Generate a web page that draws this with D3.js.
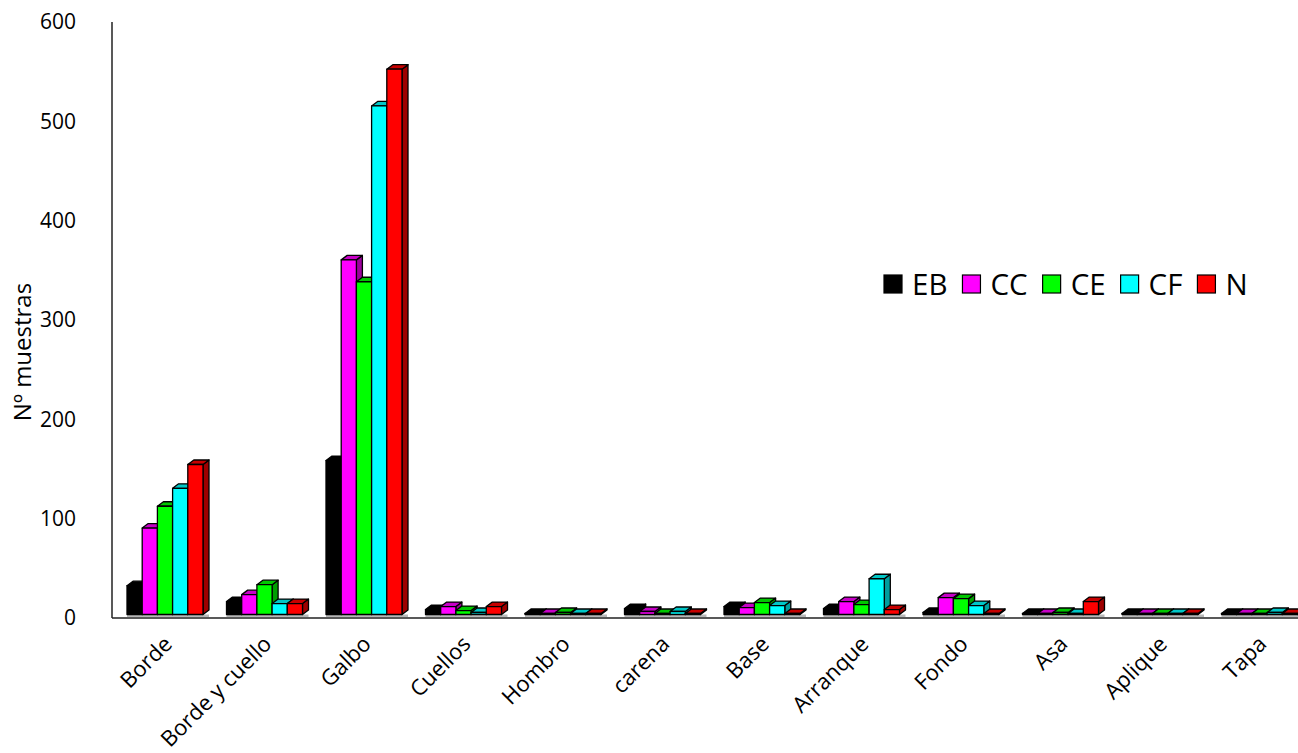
<!DOCTYPE html>
<html>
<head>
<meta charset="utf-8">
<script src="https://cdn.jsdelivr.net/npm/d3@7/dist/d3.min.js"></script>
<style>
  html, body { margin: 0; padding: 0; background: #fff; }
  svg { display: block; }
  text { font-family: "Open Sans", "DejaVu Sans", sans-serif; fill: #000; }
</style>
</head>
<body>
<svg id="chart" width="1298" height="753"></svg>
<script>
// Categorías de piezas y series por periodo
const categories = ["Borde", "Borde y cuello", "Galbo", "Cuellos", "Hombro", "carena",
                    "Base", "Arranque", "Fondo", "Asa", "Aplique", "Tapa"];
const seriesNames = ["EB", "CC", "CE", "CF", "N"];
const seriesColors = ["#000000", "#ff00ff", "#00ff00", "#00ffff", "#ff0000"];

const valuesEB = [29, 13, 155, 5, 1, 6, 8, 6, 2, 1, 1, 1];
const valuesCC = [87, 20, 357, 8, 1, 3, 7, 13, 17, 1, 1, 1];
const valuesCE = [109, 30, 335, 4, 2, 1, 12, 10, 16, 2, 1, 1];
const valuesCF = [127, 11, 512, 2, 1, 3, 9, 36, 9, 1, 1, 2];
const valuesN  = [151, 11, 549, 8, 1, 1, 1, 5, 1, 13, 1, 1];
const seriesValues = [valuesEB, valuesCC, valuesCE, valuesCF, valuesN];

const yTicks = [0, 100, 200, 300, 400, 500, 600];

const svg = d3.select("#chart");

const plotLeft = 112, plotTop = 22, plotBottom = 618;
const groupPitch = 99.5;

const y = d3.scaleLinear().domain([0, 600]).range([plotBottom, plotTop]);
const x0 = d3.scaleBand().domain(categories)
  .range([plotLeft, plotLeft + groupPitch * categories.length]).padding(0);
const x1 = d3.scaleBand().domain(seriesNames).range([15, 91]).padding(0);

// 3D column geometry
const depthX = 6, depthY = 4.5, floorLift = 3.5;
const shade = (c, k) => { const col = d3.rgb(c); return d3.rgb(col.r * k, col.g * k, col.b * k).toString(); };

// Axes
svg.append("line")
  .attr("x1", plotLeft).attr("x2", plotLeft)
  .attr("y1", plotTop).attr("y2", plotBottom)
  .attr("stroke", "#222").attr("stroke-width", 1.5);
svg.append("line")
  .attr("x1", plotLeft).attr("x2", 1298)
  .attr("y1", plotBottom).attr("y2", plotBottom)
  .attr("stroke", "#222").attr("stroke-width", 1.5);

svg.append("g").selectAll("text").data(yTicks).join("text")
  .attr("x", 76).attr("y", d => y(d)).attr("dy", "0.35em")
  .attr("text-anchor", "end").attr("font-size", 21)
  .text(d => d);

svg.append("text")
  .attr("transform", `translate(31,352) rotate(-90)`)
  .attr("text-anchor", "middle").attr("font-size", 24)
  .text("Nº muestras");

// Soft shadow beneath each group
const barsG = svg.append("g");
categories.forEach((cat, ci) => {
  const gx = x0(cat);
  barsG.append("rect")
    .attr("x", gx + x1.range()[0]).attr("y", y(0) - floorLift)
    .attr("width", x1.range()[1] - x1.range()[0] + depthX).attr("height", 2.5)
    .attr("fill", "#b8b8b8");
  seriesNames.forEach((s, si) => {
    const v = seriesValues[si][ci];
    const bx = gx + x1(s);
    const w = x1.bandwidth();
    const yb = y(0) - floorLift;
    const yt = y(v) - floorLift;
    const col = seriesColors[si];
    const g = barsG.append("g").attr("stroke", "#000").attr("stroke-width", 1.3)
      .attr("stroke-linejoin", "round");
    // side face
    g.append("path")
      .attr("d", `M${bx + w},${yt} L${bx + w + depthX},${yt - depthY} L${bx + w + depthX},${yb - depthY} L${bx + w},${yb} Z`)
      .attr("fill", shade(col, 0.62));
    // top face
    g.append("path")
      .attr("d", `M${bx},${yt} L${bx + depthX},${yt - depthY} L${bx + w + depthX},${yt - depthY} L${bx + w},${yt} Z`)
      .attr("fill", shade(col, 0.78));
    // front face
    if (yb - yt > 0.5) {
      g.append("rect")
        .attr("x", bx).attr("y", yt).attr("width", w).attr("height", yb - yt)
        .attr("fill", col);
    }
  });
});

// Category labels
svg.append("g").selectAll("text").data(categories).join("text")
  .attr("transform", d => `translate(${x0(d) + 56},${plotBottom + 22}) rotate(-45)`)
  .attr("text-anchor", "end").attr("dy", "0.35em").attr("font-size", 22)
  .text(d => d);

// Legend
const legend = svg.append("g").attr("transform", "translate(884,284)");
let lx = 0;
seriesNames.forEach((s, i) => {
  legend.append("rect")
    .attr("x", lx).attr("y", -9).attr("width", 18).attr("height", 18)
    .attr("fill", seriesColors[i]).attr("stroke", "#000").attr("stroke-width", 1.2);
  const t = legend.append("text")
    .attr("x", lx + 28).attr("y", 0).attr("dy", "0.36em")
    .attr("font-size", 29.5).text(s);
  lx += 28 + t.node().getComputedTextLength() + 15;
});
</script>
</body>
</html>
